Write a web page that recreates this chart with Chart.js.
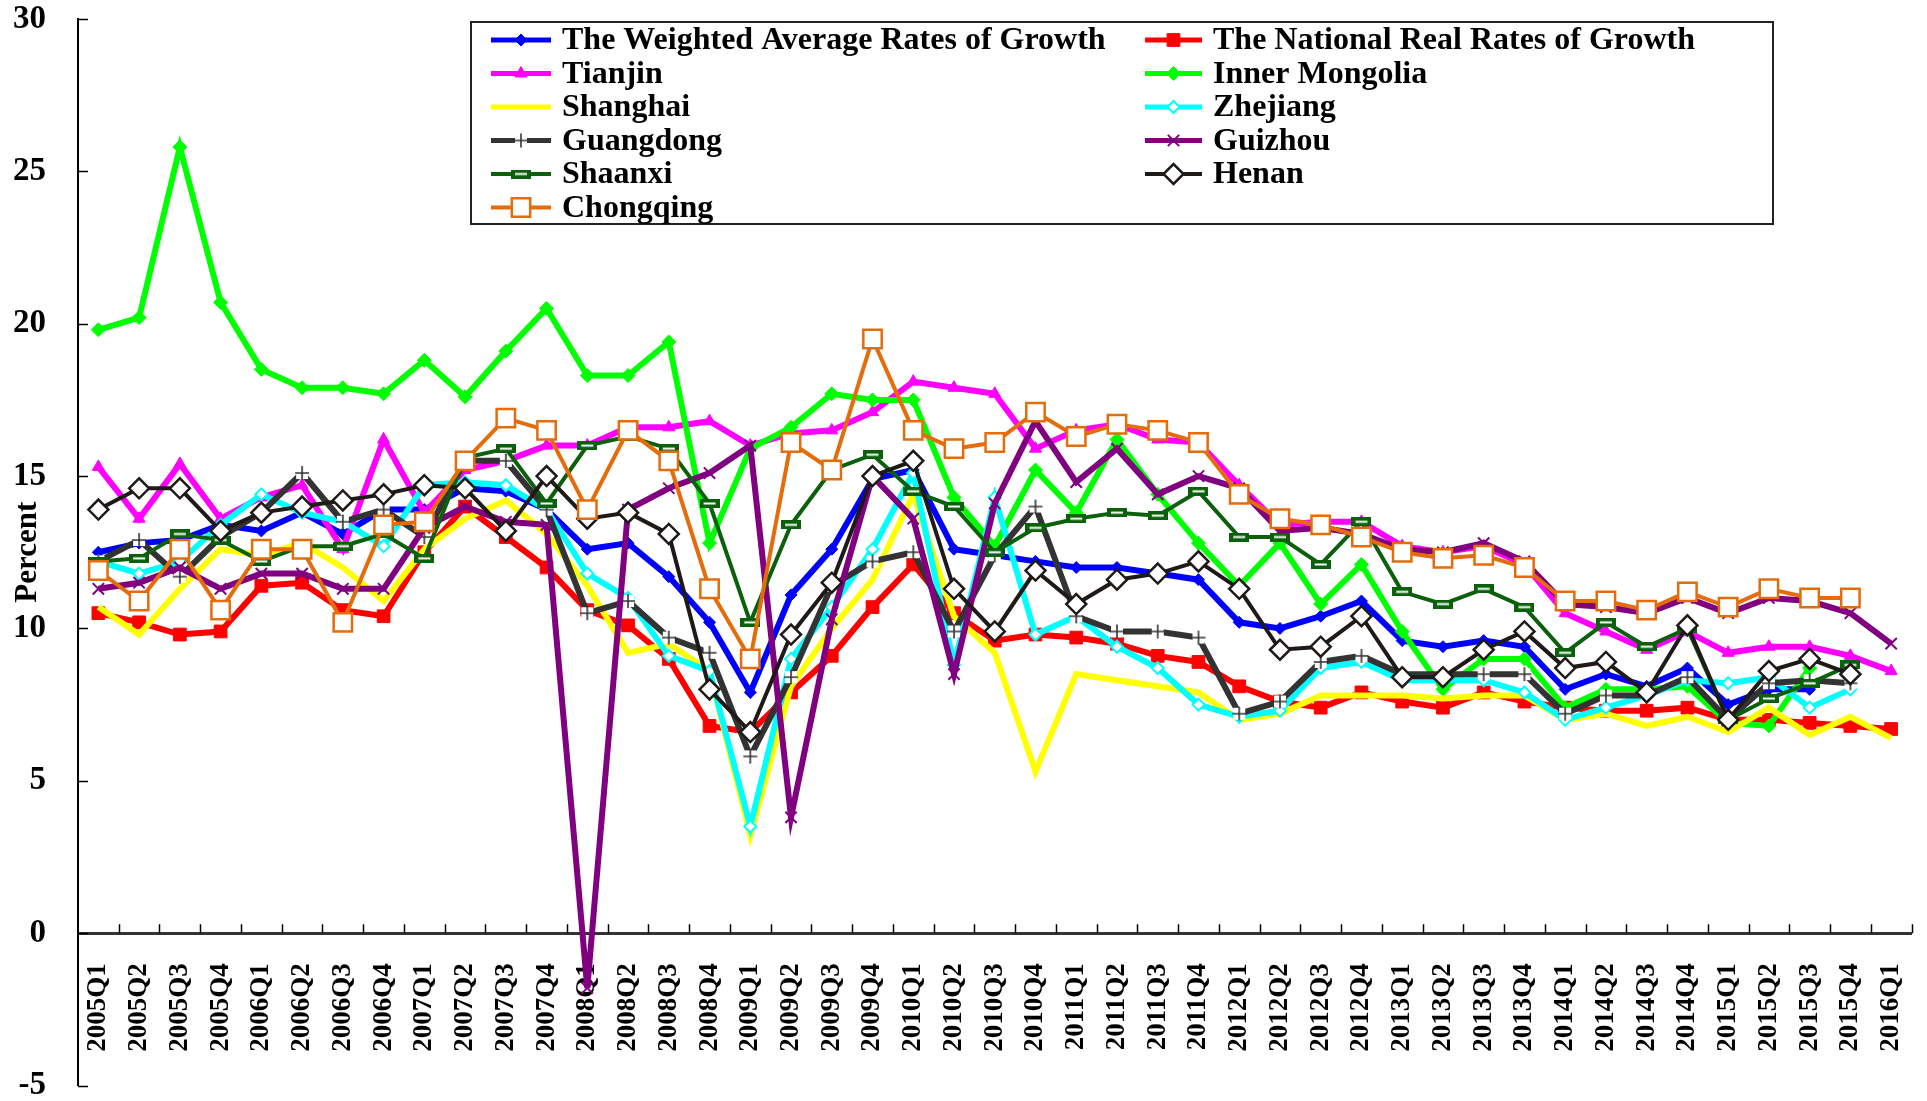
<!DOCTYPE html>
<html lang="en">
<head>
<meta charset="UTF-8">
<title>Quarterly Rates of Growth</title>
<style>
    body {
        margin: 0;
        background-color: #ffffff;
    }
    #growthChart {
        display: block;
    }
</style>
</head>
<body>
<canvas id="growthChart" width="1927" height="1101"></canvas>

<script src="https://cdn.jsdelivr.net/npm/chart.js@4"></script>
<script>
    // Quarters on the category axis
    const quarters = [
        '2005Q1', '2005Q2', '2005Q3', '2005Q4', '2006Q1', '2006Q2', '2006Q3', '2006Q4',
        '2007Q1', '2007Q2', '2007Q3', '2007Q4', '2008Q1', '2008Q2', '2008Q3', '2008Q4',
        '2009Q1', '2009Q2', '2009Q3', '2009Q4', '2010Q1', '2010Q2', '2010Q3', '2010Q4',
        '2011Q1', '2011Q2', '2011Q3', '2011Q4', '2012Q1', '2012Q2', '2012Q3', '2012Q4',
        '2013Q1', '2013Q2', '2013Q3', '2013Q4', '2014Q1', '2014Q2', '2014Q3', '2014Q4',
        '2015Q1', '2015Q2', '2015Q3', '2015Q4', '2016Q1'
    ];

    // Growth rates, percent
    const weightedAverage = [
        12.5, 12.8, 12.9, 13.4, 13.2, 13.8, 13.1, 13.9, 13.9, 14.6, 14.5, 13.9, 12.6, 12.8, 11.7,
        10.2, 7.9, 11.1, 12.6, 14.9, 15.2, 12.6, 12.4, 12.2, 12.0, 12.0, 11.8, 11.6, 10.2,
        10.0, 10.4, 10.9, 9.6, 9.4, 9.6, 9.4, 8.0, 8.5, 8.1, 8.7, 7.5, 8.0, 8.0, null, null
    ];
    const nationalReal = [
        10.5, 10.2, 9.8, 9.9, 11.4, 11.5, 10.6, 10.4, 12.5, 14.0, 13.0, 12.0, 10.6, 10.1, 9.0,
        6.8, 6.6, 7.9, 9.1, 10.7, 12.1, 10.5, 9.6, 9.8, 9.7, 9.5, 9.1, 8.9, 8.1,
        7.6, 7.4, 7.9, 7.6, 7.4, 7.9, 7.6, 7.4, 7.3, 7.3, 7.4, 7.0, 7.0, 6.9, 6.8, 6.7
    ];
    const tianjin = [
        15.3, 13.6, 15.4, 13.6, 14.3, 14.7, 12.6, 16.2, 13.8, 15.2, 15.5, 16.0, 16.0, 16.6, 16.6,
        16.8, 16.0, 16.4, 16.5, 17.1, 18.1, 17.9, 17.7, 15.9, 16.5, 16.7, 16.2, 16.1, 14.7,
        13.4, 13.5, 13.5, 12.7, 12.5, 12.7, 12.1, 10.5, 9.9, 9.3, 9.9, 9.2, 9.4, 9.4, 9.1, 8.6
    ];
    const innerMongolia = [
        19.8, 20.2, 25.8, 20.7, 18.5, 17.9, 17.9, 17.7, 18.8, 17.6, 19.1, 20.5, 18.3, 18.3, 19.4,
        12.8, 15.9, 16.6, 17.7, 17.5, 17.5, 14.3, 12.7, 15.2, 13.8, 16.2, 14.4, 12.8, 11.4,
        12.8, 10.8, 12.1, 9.9, 8.0, 9.0, 9.0, 7.4, 8.0, 8.0, 8.1, 6.9, 6.8, 8.7, null, null
    ];
    const shanghai = [
        10.7, 9.8, 11.3, 12.6, 12.4, 12.8, 12.0, 10.9, 12.6, 13.6, 14.2, 13.1, 11.4, 9.2, 9.5,
        8.6, 3.2, 8.1, 10.0, 11.6, 14.4, 10.4, 9.2, 5.3, 8.5, 8.3, 8.1, 7.9, 7.0,
        7.2, 7.8, 7.8, 7.8, 7.7, 7.8, 7.8, 7.0, 7.2, 6.8, 7.1, 6.6, 7.4, 6.5, 7.1, 6.4
    ];
    const zhejiang = [
        12.2, 11.8, 12.2, 13.4, 14.4, 13.8, 13.5, 12.7, 14.7, 14.8, 14.7, 13.9, 11.8, 11.0, 9.1,
        8.6, 3.5, 9.0, 10.7, 12.6, 15.1, 8.8, 14.3, 9.8, 10.4, 9.4, 8.7, 7.5, 7.1,
        7.3, 8.7, 8.9, 8.3, 8.3, 8.3, 7.9, 7.0, 7.4, 7.8, 8.3, 8.2, 8.4, 7.4, 8.0, null
    ];
    const guangdong = [
        12.2, 12.9, 11.7, 13.0, 13.8, 15.1, 13.5, 13.9, 13.0, 15.5, 15.5, 13.9, 10.5, 10.9, 9.7,
        9.2, 5.8, 8.4, 11.4, 12.2, 12.5, 9.9, 12.4, 14.0, 10.4, 9.9, 9.9, 9.7, 7.2,
        7.6, 8.9, 9.1, 8.5, 8.5, 8.5, 8.5, 7.2, 7.8, 7.8, 8.4, 7.0, 8.2, 8.3, 8.2, null
    ];
    const guizhou = [
        11.3, 11.5, 12.0, 11.3, 11.8, 11.8, 11.3, 11.3, 13.3, 14.0, 13.5, 13.4, -1.8, 13.9, 14.6,
        15.1, 16.0, 3.8, 10.3, 15.0, 13.6, 8.5, 14.1, 16.8, 14.8, 15.9, 14.4, 15.0, 14.6,
        13.2, 13.3, 13.1, 12.6, 12.5, 12.8, 12.2, 10.8, 10.7, 10.5, 11.0, 10.5, 11.0, 10.9, 10.5, 9.5
    ];
    const shaanxi = [
        12.2, 12.3, 13.1, 12.9, 12.2, 12.7, 12.7, 13.1, 12.3, 15.6, 15.9, 14.1, 16.0, 16.3, 15.9,
        14.1, 10.2, 13.4, 15.2, 15.7, 14.5, 14.0, 12.5, 13.3, 13.6, 13.8, 13.7, 14.5, 13.0,
        13.0, 12.1, 13.5, 11.2, 10.8, 11.3, 10.7, 9.2, 10.2, 9.4, 10.0, 7.0, 7.7, 8.2, 8.8, null
    ];
    const henan = [
        13.9, 14.6, 14.6, 13.2, 13.8, 14.0, 14.2, 14.4, 14.7, 14.6, 13.2, 15.0, 13.6, 13.8, 13.1,
        8.0, 6.6, 9.8, 11.5, 15.0, 15.5, 11.3, 9.9, 11.9, 10.8, 11.6, 11.8, 12.2, 11.3,
        9.3, 9.4, 10.4, 8.4, 8.4, 9.3, 9.9, 8.7, 8.9, 7.9, 10.1, 7.0, 8.6, 9.0, 8.5, null
    ];
    const chongqing = [
        11.9, 10.9, 12.6, 10.6, 12.6, 12.6, 10.2, 13.4, 13.5, 15.5, 16.9, 16.5, 13.9, 16.5, 15.5,
        11.3, 9.0, 16.1, 15.2, 19.5, 16.5, 15.9, 16.1, 17.1, 16.3, 16.7, 16.5, 16.1, 14.4,
        13.6, 13.4, 13.0, 12.5, 12.3, 12.4, 12.0, 10.9, 10.9, 10.6, 11.2, 10.7, 11.3, 11.0, 11.0, null
    ];

    const serifBold = { family: '"Liberation Serif", "Times New Roman", serif', weight: 'bold' };

    // White box with a thin plus, used for Guangdong
    function plusMarker() {
        const c = document.createElement('canvas');
        c.width = 16;
        c.height = 16;
        const g = c.getContext('2d');
        g.fillStyle = '#ffffff';
        g.fillRect(2, 2, 12, 12);
        g.strokeStyle = '#333333';
        g.lineWidth = 1.6;
        g.beginPath();
        g.moveTo(8, 1); g.lineTo(8, 15);
        g.moveTo(1, 8); g.lineTo(15, 8);
        g.stroke();
        return c;
    }

    // Flat green bar with a white dash, used for Shaanxi
    function dashMarker() {
        const c = document.createElement('canvas');
        c.width = 20;
        c.height = 9;
        const g = c.getContext('2d');
        g.fillStyle = '#0b600b';
        g.fillRect(0, 0, 20, 9);
        g.fillStyle = '#ffffff';
        g.fillRect(4, 3.5, 12, 2);
        return c;
    }

    function series(label, data, color, extra) {
        return Object.assign({
            label: label,
            data: data,
            borderColor: color,
            backgroundColor: color,
            pointBackgroundColor: color,
            pointBorderColor: color,
            borderWidth: 6,
            pointRadius: 6,
            pointBorderWidth: 1,
            tension: 0
        }, extra);
    }

    const datasets = [
        series('The Weighted Average Rates of Growth', weightedAverage, '#0000ff', { pointStyle: 'rectRot', pointRadius: 6 }),
        series('The National Real Rates of Growth', nationalReal, '#ff0000', { pointStyle: 'rect', pointRadius: 9 }),
        series('Tianjin', tianjin, '#ff00ff', { pointStyle: 'triangle', pointRadius: 7 }),
        series('Inner Mongolia', innerMongolia, '#00ff00', { pointStyle: 'rectRot', pointRadius: 7 }),
        series('Shanghai', shanghai, '#ffff00', { pointRadius: 0 }),
        series('Zhejiang', zhejiang, '#00ffff', { pointStyle: 'rectRot', pointRadius: 6, pointBackgroundColor: '#ffffff', pointBorderWidth: 2 }),
        series('Guangdong', guangdong, '#333333', { pointStyle: plusMarker() }),
        series('Guizhou', guizhou, '#800080', { pointStyle: 'crossRot', pointRadius: 8, pointBorderWidth: 2 }),
        series('Shaanxi', shaanxi, '#0b600b', { pointStyle: dashMarker(), borderWidth: 4 }),
        series('Henan', henan, '#1f1a17', { pointStyle: 'rectRot', pointRadius: 10, pointBackgroundColor: '#ffffff', pointBorderWidth: 2.5, borderWidth: 4 }),
        series('Chongqing', chongqing, '#e46c0a', { pointStyle: 'rect', pointRadius: 13, pointBackgroundColor: '#ffffff', pointBorderWidth: 2.5, borderWidth: 4 })
    ];
    // later series are painted over earlier ones
    datasets.forEach((ds, i) => { ds.order = datasets.length - i; });

    // Inward tick marks on both axes
    const axisTicks = {
        id: 'axisTicks',
        beforeDatasetsDraw(chart) {
            const { ctx, chartArea, scales: { x, y } } = chart;
            const zeroY = y.getPixelForValue(0);
            ctx.save();
            ctx.strokeStyle = '#000000';
            ctx.lineWidth = 1.5;
            ctx.beginPath();
            y.ticks.forEach((t, i) => {
                const py = Math.round(y.getPixelForTick(i)) + 0.5;
                ctx.moveTo(chartArea.left, py);
                ctx.lineTo(chartArea.left + 10, py);
            });
            for (let i = 1; i <= quarters.length; i++) {
                const px = i < quarters.length
                    ? (x.getPixelForValue(i - 1) + x.getPixelForValue(i)) / 2
                    : chartArea.right;
                ctx.moveTo(Math.round(px) + 0.5, zeroY);
                ctx.lineTo(Math.round(px) + 0.5, zeroY - 9);
            }
            ctx.stroke();
            ctx.restore();
        }
    };

    // Boxed two-column legend with line and marker samples
    const boxedLegend = {
        id: 'boxedLegend',
        afterDraw(chart) {
            const ctx = chart.ctx;
            const box = { left: 471, top: 22, right: 1773, bottom: 224 };
            const cols = [{ lineFrom: 491, lineTo: 551, text: 562 }, { lineFrom: 1145, lineTo: 1202, text: 1213 }];
            const rowTop = 40, rowStep = 33.5;

            ctx.save();
            ctx.fillStyle = '#ffffff';
            ctx.fillRect(box.left, box.top, box.right - box.left, box.bottom - box.top);
            ctx.strokeStyle = '#222222';
            ctx.lineWidth = 2;
            ctx.strokeRect(box.left, box.top, box.right - box.left, box.bottom - box.top);

            ctx.font = 'bold 32px "Liberation Serif", "Times New Roman", serif';
            ctx.textBaseline = 'middle';
            ctx.textAlign = 'left';

            chart.data.datasets.forEach((ds, i) => {
                const col = cols[i % 2];
                const cy = rowTop + rowStep * Math.floor(i / 2);
                ctx.strokeStyle = ds.borderColor;
                ctx.lineWidth = Math.min(ds.borderWidth, 5);
                ctx.beginPath();
                ctx.moveTo(col.lineFrom, cy);
                ctx.lineTo(col.lineTo, cy);
                ctx.stroke();

                if (ds.pointRadius > 0) {
                    ctx.fillStyle = ds.pointBackgroundColor;
                    ctx.strokeStyle = ds.pointBorderColor;
                    ctx.lineWidth = ds.pointBorderWidth;
                    Chart.helpers.drawPoint(ctx, {
                        pointStyle: ds.pointStyle,
                        radius: ds.pointRadius,
                        rotation: 0,
                        borderWidth: ds.pointBorderWidth
                    }, (col.lineFrom + col.lineTo) / 2, cy);
                }

                ctx.fillStyle = '#000000';
                ctx.fillText(ds.label, col.text, cy + 1);
            });
            ctx.restore();
        }
    };

    const ctx = document.getElementById('growthChart').getContext('2d');
    const growthChart = new Chart(ctx, {
        type: 'line',
        data: {
            labels: quarters,
            datasets: datasets
        },
        options: {
            responsive: false,
            animation: false,
            layout: {
                padding: { left: 5, right: 10, top: 19, bottom: 14 }
            },
            plugins: {
                legend: { display: false },
                tooltip: { enabled: false }
            },
            scales: {
                x: {
                    type: 'category',
                    offset: true,
                    position: { y: 0 },
                    afterFit(scale) {
                        scale.paddingLeft = 0;
                        scale.paddingRight = 0;
                    },
                    grid: {
                        display: true,
                        offset: true,
                        drawOnChartArea: false,
                        drawTicks: true,
                        tickLength: 30,
                        color: 'rgba(0,0,0,0)'
                    },
                    border: { display: true, color: '#333333', width: 3 },
                    ticks: {
                        autoSkip: false,
                        maxRotation: 90,
                        minRotation: 90,
                        padding: 0,
                        color: '#000000',
                        font: Object.assign({ size: 27 }, serifBold)
                    }
                },
                y: {
                    min: -5,
                    max: 30,
                    afterFit(scale) {
                        scale.width = 73;
                        scale.paddingTop = 0;
                        scale.paddingBottom = 0;
                    },
                    grid: {
                        display: true,
                        drawOnChartArea: false,
                        drawTicks: true,
                        tickLength: 32,
                        color: 'rgba(0,0,0,0)'
                    },
                    border: { display: true, color: '#000000', width: 2 },
                    ticks: {
                        stepSize: 5,
                        padding: 0,
                        color: '#000000',
                        font: Object.assign({ size: 33, lineHeight: 0.9 }, serifBold)
                    },
                    title: {
                        display: true,
                        text: 'Percent',
                        color: '#000000',
                        padding: { top: 4, bottom: 0 },
                        font: Object.assign({ size: 31 }, serifBold)
                    }
                }
            }
        },
        plugins: [axisTicks, boxedLegend]
    });
</script>
</body>
</html>
